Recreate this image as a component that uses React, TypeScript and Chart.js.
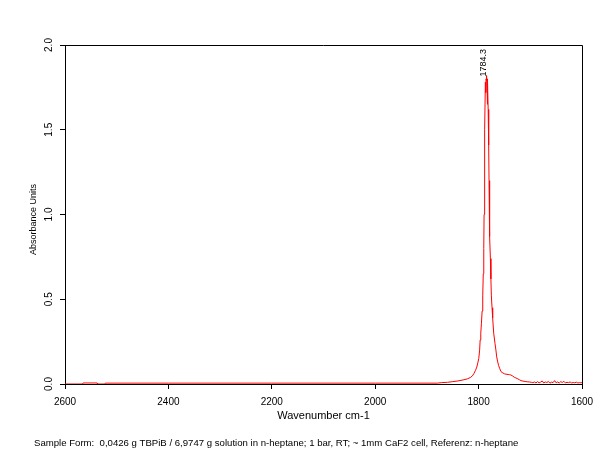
import React, { useEffect, useRef } from "react";
import { Chart, registerables } from "chart.js";

Chart.register(...registerables);

const wavenumbers: number[] = [
  2600, 2566, 2565, 2538, 2537, 2523, 2522, 2400, 2200, 2000, 1880,
  1872, 1860, 1850, 1840, 1830, 1822, 1816, 1812, 1809, 1806, 1803.5, 1801.5,
  1799.7, 1798, 1797, 1795.8, 1794.6, 1793.2, 1792, 1791, 1790, 1789.4, 1788.8,
  1787.8, 1786.9, 1786.2, 1785.6, 1784.9, 1784.3, 1783.7, 1783.3, 1782.8, 1782.4,
  1781.5, 1780.5, 1779.8, 1779.2, 1778.2, 1777.2, 1776.2, 1775.3, 1774, 1772.8,
  1770.8, 1768.3, 1766.5, 1765, 1763, 1761.2, 1759, 1756.7, 1753, 1750, 1747,
  1743, 1740, 1737.5, 1734, 1731, 1728, 1724, 1721, 1718, 1714, 1710, 1706, 1702,
  1698, 1695, 1692, 1689, 1686, 1683, 1680, 1677, 1674, 1671, 1668, 1665, 1662,
  1659, 1656, 1653, 1650, 1647, 1644, 1641, 1638, 1635, 1632, 1629, 1626, 1623,
  1620, 1617, 1614, 1611, 1608, 1605, 1602, 1600,
];

const absorbance: number[] = [
  0, 0, 0.006, 0.006, 0, 0, 0.005, 0.005, 0.005, 0.005, 0.005,
  0.008, 0.01, 0.014, 0.018, 0.024, 0.03, 0.038, 0.048, 0.062, 0.08, 0.1, 0.125,
  0.15, 0.2, 0.26, 0.3, 0.355, 0.43, 0.52, 0.65, 0.8, 1.0, 1.25,
  1.5, 1.78, 1.72, 1.8, 1.79, 1.82, 1.75, 1.65, 1.72, 1.8,
  1.62, 1.41, 1.2, 1.02, 0.87, 0.74, 0.62, 0.52, 0.45, 0.39,
  0.3, 0.24, 0.2, 0.16, 0.13, 0.108, 0.09, 0.073, 0.065, 0.06, 0.058,
  0.056, 0.055, 0.053, 0.047, 0.04, 0.036, 0.03, 0.025, 0.02, 0.017, 0.015, 0.013, 0.012,
  0.01, 0.008, 0.012, 0.006, 0.014, 0.007, 0.011, 0.018, 0.006, 0.012, 0.009, 0.015, 0.005,
  0.011, 0.008, 0.02, 0.007, 0.012, 0.006, 0.014, 0.009, 0.016, 0.006, 0.01, 0.008, 0.012,
  0.006, 0.009, 0.007, 0.011, 0.006, 0.008, 0.007, 0.008,
];

const xTicks: number[] = [2600, 2400, 2200, 2000, 1800, 1600];
const yTicks: number[] = [0, 0.5, 1.0, 1.5, 2.0];
const peakWavenumber = 1784.3;
const peakAbsorbance = 1.82;
const peakLabel = "1784.3";
const xTitle = "Wavenumber cm-1";
const yTitle = "Absorbance Units";
const footer =
  "Sample Form:  0,0426 g TBPiB / 6,9747 g solution in n-heptane; 1 bar, RT; ~ 1mm CaF2 cell, Referenz: n-heptane";

const FONT = "'Liberation Sans', Arial, sans-serif";

const overlayPlugin = {
  id: "overlay",
  afterDraw(chart: any) {
    const ctx = chart.ctx as CanvasRenderingContext2D;
    const { left, right, top, bottom } = chart.chartArea;
    const xs = chart.scales.x;
    const ys = chart.scales.y;
    ctx.save();
    // frame top/right
    ctx.strokeStyle = "#000";
    ctx.lineWidth = 1;
    ctx.beginPath();
    ctx.moveTo(left, top + 0.5);
    ctx.lineTo(right + 0.5, top + 0.5);
    ctx.lineTo(right + 0.5, bottom);
    ctx.stroke();

    // y tick labels rotated
    ctx.fillStyle = "#000";
    ctx.font = `10px ${FONT}`;
    ctx.textAlign = "center";
    ctx.textBaseline = "middle";
    for (const v of yTicks) {
      const py = ys.getPixelForValue(v);
      ctx.save();
      ctx.translate(left - 16, py);
      ctx.rotate(-Math.PI / 2);
      ctx.fillText(v.toFixed(1), 0, 0);
      ctx.restore();
    }

    // y title
    ctx.save();
    ctx.font = `9px ${FONT}`;
    ctx.translate(34, (top + bottom) / 2 + 5);
    ctx.rotate(-Math.PI / 2);
    ctx.fillText(yTitle, 0, 0);
    ctx.restore();

    // x title
    ctx.font = `11px ${FONT}`;
    ctx.textAlign = "center";
    ctx.textBaseline = "middle";
    ctx.fillText(xTitle, (left + right) / 2, 416);

    // footer
    ctx.font = `9.6px ${FONT}`;
    ctx.textAlign = "left";
    ctx.fillText(footer, 34, 443);

    // peak label
    const px = xs.getPixelForValue(peakWavenumber);
    const py = ys.getPixelForValue(peakAbsorbance);
    ctx.save();
    ctx.font = `9px ${FONT}`;
    ctx.translate(px - 3, py + 1);
    ctx.rotate(-Math.PI / 2);
    ctx.textAlign = "left";
    ctx.textBaseline = "middle";
    ctx.fillText(peakLabel, 0, 0);
    ctx.restore();
    ctx.restore();
  },
};

export default function App() {
  const ref = useRef<HTMLCanvasElement | null>(null);
  useEffect(() => {
    if (!ref.current) return;
    const points = wavenumbers.map((w, i) => ({ x: w, y: absorbance[i] }));
    const chart = new Chart(ref.current, {
      type: "line",
      data: {
        datasets: [
          {
            data: points,
            borderColor: "#ff0000",
            borderWidth: 1,
            pointRadius: 0,
            tension: 0,
            fill: false,
          },
        ],
      },
      options: {
        responsive: false,
        animation: false,
        events: [],
        layout: { padding: { left: 0, right: 30, top: 45, bottom: 48 } },
        plugins: { legend: { display: false }, tooltip: { enabled: false } },
        scales: {
          x: {
            type: "linear",
            reverse: true,
            min: 1600,
            max: 2600,
            afterFit: (s: any) => {
              s.height = 40;
            },
            afterBuildTicks: (s: any) => {
              s.ticks = xTicks.map((v) => ({ value: v }));
            },
            grid: {
              drawOnChartArea: false,
              drawTicks: true,
              tickLength: 5,
              color: "#000",
            },
            border: { display: true, color: "#000", width: 1 },
            ticks: {
              color: "#000",
              font: { size: 10, family: FONT },
              padding: 7,
              maxRotation: 0,
              autoSkip: false,
              callback: (v: any) => String(v),
            },
          },
          y: {
            min: 0,
            max: 2,
            afterFit: (s: any) => {
              s.width = 65;
            },
            afterBuildTicks: (s: any) => {
              s.ticks = yTicks.map((v) => ({ value: v }));
            },
            grid: {
              drawOnChartArea: false,
              drawTicks: true,
              tickLength: 5,
              color: "#000",
            },
            border: { display: true, color: "#000", width: 1 },
            ticks: { display: false },
          },
        },
      },
      plugins: [overlayPlugin],
    });
    return () => chart.destroy();
  }, []);
  return (
    <div style={{ position: "fixed", left: 0, top: 0, width: 612, height: 472, background: "#fff" }}>
      <canvas ref={ref} width={612} height={472} style={{ width: 612, height: 472 }} />
    </div>
  );
}
